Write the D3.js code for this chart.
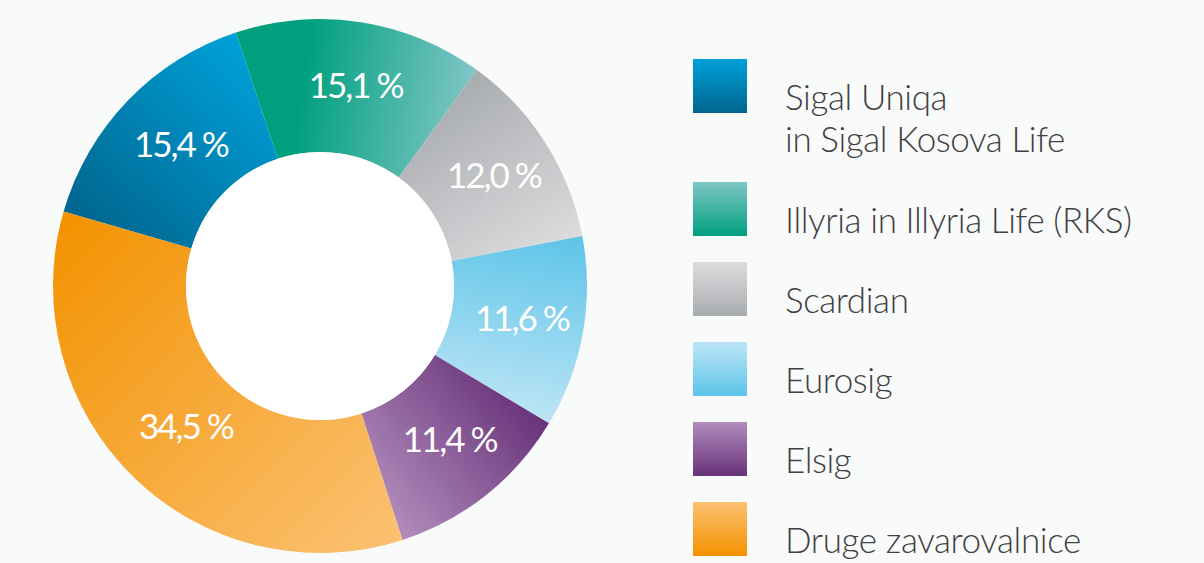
<!DOCTYPE html>
<html>
<head>
<meta charset="utf-8">
<script src="https://cdn.jsdelivr.net/npm/d3@7"></script>
<style>
  html, body { margin: 0; padding: 0; background: #f9fafa; }
  svg { display: block; }
</style>
</head>
<body>
<svg id="chart" width="1204" height="563"></svg>
<script>
// ---- data ----
const categories = [
  ["Sigal Uniqa", "in Sigal Kosova Life"],
  ["Illyria in Illyria Life (RKS)"],
  ["Scardian"],
  ["Eurosig"],
  ["Elsig"],
  ["Druge zavarovalnice"]
];
const shares = [15.4, 15.1, 12.0, 11.6, 11.4, 34.5];
const shareLabels = ["15,4 %", "15,1 %", "12,0 %", "11,6 %", "11,4 %", "34,5 %"];

// ---- palette ----
const lightColors = ["#00a1d9", "#80c6c6", "#dcdcde", "#bde5f6", "#b18dbd", "#fbc172"];
const darkColors  = ["#00658e", "#00a07e", "#a9acaf", "#5cc4e8", "#683279", "#f39200"];
const sliceReverse = [false, false, false, false, false, true];

const svg = d3.select("#chart");
const W = 1204, H = 563;
svg.append("rect").attr("width", W).attr("height", H).attr("fill", "#f9fafa");

const cx = 320, cy = 286, R = 267, r0 = 134;
const startA = -73.8 * Math.PI / 180;

const pie = d3.pie().sort(null).value(d => d).startAngle(startA).endAngle(startA + 2 * Math.PI);
const arcs = pie(shares);
const arc = d3.arc().innerRadius(r0).outerRadius(R);
const labelArc = d3.arc().innerRadius(200).outerRadius(200);

const defs = svg.append("defs");
const pt = (a, rad) => [rad * Math.sin(a), -rad * Math.cos(a)];

arcs.forEach((d, i) => {
  const p0 = pt(d.startAngle, R), p1 = pt(d.endAngle, R);
  const g = defs.append("linearGradient")
    .attr("id", "sg" + i)
    .attr("gradientUnits", "userSpaceOnUse")
    .attr("x1", p0[0]).attr("y1", p0[1])
    .attr("x2", p1[0]).attr("y2", p1[1]);
  const c0 = sliceReverse[i] ? lightColors[i] : darkColors[i];
  const c1 = sliceReverse[i] ? darkColors[i] : lightColors[i];
  g.append("stop").attr("offset", i === 1 ? 0.3 : 0).attr("stop-color", c0);
  g.append("stop").attr("offset", 1).attr("stop-color", c1);

  const lg = defs.append("linearGradient")
    .attr("id", "lg" + i).attr("x1", 0).attr("y1", 0).attr("x2", 0).attr("y2", 1);
  lg.append("stop").attr("offset", 0).attr("stop-color", lightColors[i]);
  lg.append("stop").attr("offset", 1).attr("stop-color", darkColors[i]);
});

const gPie = svg.append("g").attr("transform", `translate(${cx},${cy})`);
gPie.selectAll("path.slice")
  .data(arcs)
  .join("path")
  .attr("class", "slice")
  .attr("d", arc)
  .attr("fill", (d, i) => `url(#sg${i})`);

gPie.append("circle").attr("r", r0).attr("fill", "#ffffff");

gPie.selectAll("text.lbl")
  .data(arcs)
  .join("text")
  .attr("class", "lbl")
  .attr("transform", d => {
    const c = labelArc.centroid(d);
    return `translate(${c[0] + 5},${c[1] - 2})`;
  })
  .attr("text-anchor", "middle")
  .attr("dy", "0.33em")
  .attr("fill", "#ffffff")
  .style("font-family", "Lato, 'Open Sans', sans-serif")
  .style("font-size", "35px")
  .style("letter-spacing", "-2px")
  .text((d, i) => shareLabels[i]);

// ---- legend ----
const legX = 693, sq = 54, textX = 785, lineH = 42;
const tops = categories.map((c, i) => i === 0 ? 59 : 182 + (i - 1) * 80);
const leg = svg.append("g");
categories.forEach((lines, i) => {
  const y = tops[i];
  leg.append("rect").attr("x", legX).attr("y", y).attr("width", sq).attr("height", sq)
    .attr("fill", `url(#lg${i})`);
  const t = leg.append("text")
    .attr("x", textX).attr("y", y + 51)
    .attr("fill", "#3f4043")
    .style("font-family", "Lato, 'Open Sans', sans-serif")
    .style("font-weight", 300)
    .style("font-size", "35px")
    .style("letter-spacing", "-0.4px");
  lines.forEach((ln, k) => {
    t.append("tspan").attr("x", textX).attr("dy", k === 0 ? 0 : lineH).text(ln);
  });
});
</script>
</body>
</html>
